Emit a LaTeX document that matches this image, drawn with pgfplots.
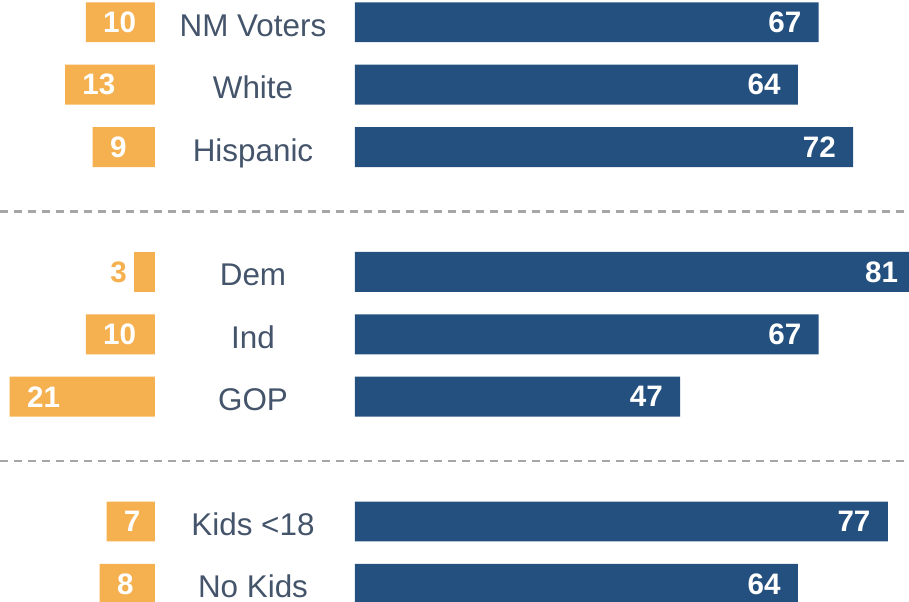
\documentclass[border=0pt]{standalone}
\usepackage{pgfplots}
\usepackage{pgfplotstable}
\pgfplotsset{compat=1.18}
\usepackage{fontspec}
\setmainfont{Liberation Sans}
\definecolor{barblue}{HTML}{24507F}
\definecolor{barorange}{HTML}{F5B04F}
\definecolor{labtxt}{HTML}{44546A}
\definecolor{dashgray}{HTML}{A6A6A6}
\newcommand{\numfont}{\fontsize{14.8bp}{16bp}\selectfont\bfseries}
\newcommand{\labfont}{\fontsize{15.7bp}{18bp}\selectfont}
\pgfplotsset{
  base/.style={scale only axis, width=461.2bp, height=301bp, hide axis,
    y dir=reverse, ymin=-0.357, ymax=9.29, clip=true},
}
\tikzset{catlab/.style={anchor=base, yshift=-7bp, text=labtxt, font=\labfont, inner sep=0pt}}
% blue: share agreeing (k = row position)
\pgfplotstableread{
k v
0 67
1 64
2 72
4 81
5 67
6 47
8 77
9 64
}\bluetab
% orange: share disagreeing
\pgfplotstableread{
k v
0 10
1 13
2 9
5 10
6 21
8 7
9 8
}\orangetab
\pgfplotstableread{
k v
4 3
}\orangesmall
\begin{document}
\begin{tikzpicture}
\begin{axis}[base, xmin=-51.3, xmax=82]
\addplot[xbar, bar width=0.64, bar shift=0pt, fill=barblue, draw=none,
  point meta=explicit symbolic, nodes near coords={\pgfplotspointmeta},
  every node near coord/.append style={anchor=east, inner sep=0pt, xshift=-8.5bp, text=white, font=\numfont}]
  table[x=v, y=k, meta=v]{\bluetab};
\draw[dashgray, line width=1.25bp, dash pattern=on 4.15bp off 2.85bp] (axis cs:-51.3,3.03) -- (axis cs:80.06,3.03);
\draw[dashgray, line width=1.25bp, dash pattern=on 4.15bp off 2.85bp] (axis cs:-51.3,7.03) -- (axis cs:80.06,7.03);
\node[catlab] at (axis cs:-14.74,0) {NM Voters};
\node[catlab] at (axis cs:-14.74,1) {White};
\node[catlab] at (axis cs:-14.74,2) {Hispanic};
\node[catlab] at (axis cs:-14.74,4) {Dem};
\node[catlab] at (axis cs:-14.74,5) {Ind};
\node[catlab] at (axis cs:-14.74,6) {GOP};
\node[catlab] at (axis cs:-14.74,8) {Kids <18};
\node[catlab] at (axis cs:-14.74,9) {No Kids};
\coordinate (A) at (axis cs:-51.3,9.29);
\coordinate (B) at (axis cs:80.06,-0.357);
\end{axis}
\begin{axis}[base, x dir=reverse, xmin=-110.9, xmax=22.4]
\addplot[xbar, bar width=0.64, bar shift=0pt, fill=barorange, draw=none,
  point meta=explicit symbolic, nodes near coords={\pgfplotspointmeta},
  every node near coord/.append style={anchor=west, inner sep=0pt, xshift=8.5bp, text=white, font=\numfont}]
  table[x=v, y=k, meta=v]{\orangetab};
\addplot[xbar, bar width=0.64, bar shift=0pt, fill=barorange, draw=none,
  point meta=explicit symbolic, nodes near coords={\pgfplotspointmeta},
  every node near coord/.append style={anchor=east, inner sep=0pt, xshift=-3.5bp, text=barorange, font=\numfont}]
  table[x=v, y=k, meta=v]{\orangesmall};
\end{axis}
\pgfresetboundingbox
\path[use as bounding box] (A) rectangle (B);
\end{tikzpicture}
\end{document}
